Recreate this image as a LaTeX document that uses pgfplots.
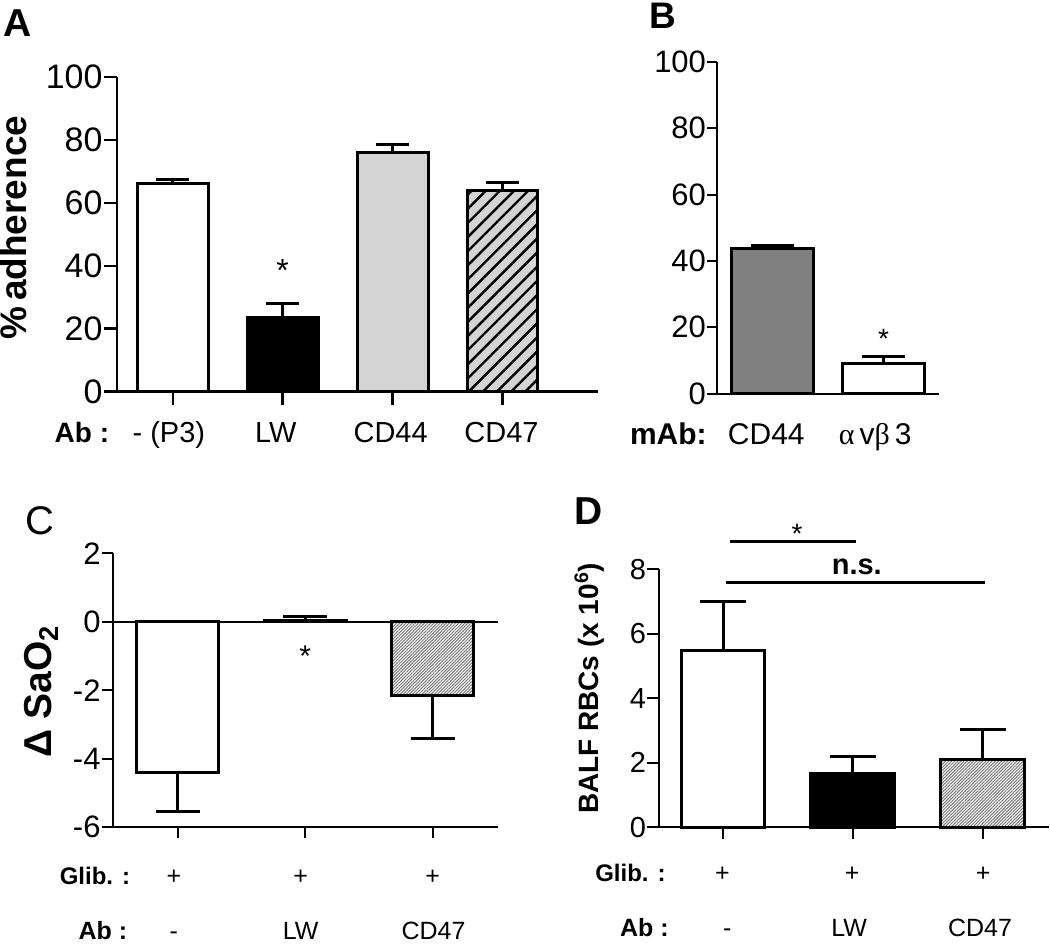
\documentclass[border=0pt]{standalone}
\usepackage{pgfplots}
\pgfplotsset{compat=1.18}
\usepackage{fontspec}
\setmainfont{Liberation Sans}
\newfontfamily\serifgreek{Liberation Serif}
\usetikzlibrary{patterns.meta}
\definecolor{lgray}{RGB}{212,212,212}
\definecolor{mgray}{RGB}{128,128,128}
\definecolor{hgray}{RGB}{120,120,120}
\newcommand{\fs}[1]{\fontsize{#1}{#1}\selectfont}
\pgfplotsset{
  panel/.style={
    scale only axis, axis lines=left, axis line style={-, line width=1pt, black},
    tick align=outside, major tick length=4pt, tick style={line width=1pt, black},
    /pgf/number format/assume math mode=true,
    ybar, bar shift=0pt, clip=false,
    every axis plot/.append style={draw=black, line width=1.5pt},
    error bars/error bar style={line width=1.5pt, black},
  },
}
\begin{document}
\begin{tikzpicture}
% ---------------- Panel A ----------------
\begin{axis}[panel, at={(58.5pt,-196pt)}, anchor=south west,
  width=241pt, height=157.5pt,
  xmin=-0.509, xmax=3.873, ymin=0, ymax=100,
  ytick={0,20,40,60,80,100}, xtick={0,1,2,3}, xticklabels={,,,},
  bar width=35.5pt, axis line style={line width=1.25pt}, tick style={line width=1.25pt},
  major tick length=6.5pt,
  yticklabel style={font=\fs{17}, inner xsep=0.5pt},
  error bars/error mark options={rotate=90, line width=1.5pt, mark size=8.25pt, black}]
\addplot[fill=white, error bars/.cd, y dir=plus, y explicit] coordinates {(0,66) +- (0,1.3)};
\addplot[fill=black, error bars/.cd, y dir=plus, y explicit] coordinates {(1,23.5) +- (0,4.5)};
\addplot[fill=lgray, error bars/.cd, y dir=plus, y explicit] coordinates {(2,76) +- (0,2.4)};
\addplot[fill=lgray, postaction={pattern={Lines[angle=45,distance=5pt,line width=1.2pt]}},
  error bars/.cd, y dir=plus, y explicit] coordinates {(3,64) +- (0,2.4)};
\node[anchor=base, inner sep=0pt, font=\fs{16}] at (axis cs:1,35.1) {*};
\end{axis}
% ---------------- Panel B ----------------
\begin{axis}[panel, at={(359pt,-197pt)}, anchor=south west,
  width=111pt, height=166pt,
  xmin=-0.5, xmax=1.5, ymin=0, ymax=100,
  ytick={0,20,40,60,80,100}, xtick=\empty,
  bar width=41pt,
  major tick length=5pt,
  yticklabel style={font=\fs{15.5}, inner xsep=0.5pt},
  error bars/error mark options={rotate=90, line width=1.5pt, mark size=10.75pt, black}]
\addplot[fill=mgray, error bars/.cd, y dir=plus, y explicit] coordinates {(0,43.7) +- (0,1.0)};
\addplot[fill=white, error bars/.cd, y dir=plus, y explicit] coordinates {(1,9.0) +- (0,2.2)};
\node[anchor=base, inner sep=0pt, font=\fs{14}] at (axis cs:1,13.6) {*};
\end{axis}
% ---------------- Panel C ----------------
\begin{axis}[panel, at={(56.5pt,-414pt)}, anchor=south west,
  width=192.5pt, height=137pt,
  xmin=-0.51, xmax=2.51, ymin=-6, ymax=2,
  ytick={-6,-4,-2,0,2}, yticklabels={-6,-4,-2,0,2}, xtick={0,1,2}, xticklabels={,,},
  bar width=41pt,
  major tick length=5.5pt,
  yticklabel style={font=\fs{15.5}, inner xsep=0.5pt},
  error bars/error mark options={rotate=90, line width=1.5pt, mark size=11pt, black}]
\draw[line width=1pt] (axis cs:-0.51,0) -- (axis cs:2.51,0);
\addplot[fill=white, error bars/.cd, y dir=minus, y explicit] coordinates {(0,-4.39) +- (0,1.14)};
\addplot[fill=white, error bars/.cd, y dir=plus, y explicit] coordinates {(1,0.05) +- (0,0.11)};
\addplot[fill=white, postaction={pattern={Lines[angle=45,distance=1.1pt,line width=0.5pt]}, pattern color=hgray},
  error bars/.cd, y dir=minus, y explicit] coordinates {(2,-2.14) +- (0,1.26)};
\node[anchor=base, inner sep=0pt, font=\fs{15}] at (axis cs:1,-1.30) {*};
\end{axis}
% ---------------- Panel D ----------------
\begin{axis}[panel, at={(330pt,-414pt)}, anchor=south west,
  width=195pt, height=129pt,
  xmin=-0.49, xmax=2.51, ymin=0, ymax=8,
  ytick={0,2,4,6,8}, xtick={0,1,2}, xticklabels={,,},
  bar width=42pt,
  major tick length=6pt,
  yticklabel style={font=\fs{14.5}, inner xsep=0.5pt},
  error bars/error mark options={rotate=90, line width=1.5pt, mark size=11.5pt, black}]
\addplot[fill=white, error bars/.cd, y dir=plus, y explicit] coordinates {(0,5.47) +- (0,1.53)};
\addplot[fill=black, error bars/.cd, y dir=plus, y explicit] coordinates {(1,1.66) +- (0,0.53)};
\addplot[fill=white, postaction={pattern={Lines[angle=45,distance=1.1pt,line width=0.5pt]}, pattern color=hgray},
  error bars/.cd, y dir=plus, y explicit] coordinates {(2,2.09) +- (0,0.95)};
\draw[line width=1.5pt] (axis cs:0.05,8.87) -- (axis cs:1.02,8.87);
\draw[line width=1.5pt] (axis cs:0.02,7.6) -- (axis cs:2.02,7.6);
\node[anchor=base, inner sep=0pt, font=\fs{14}] at (axis cs:0.57,8.81) {*};
\node[anchor=base, inner sep=0pt, font=\bfseries\fs{14.5}] at (axis cs:1.03,7.85) {n.s.};
\end{axis}
% ---------------- Text in pixel coordinates ----------------
\begin{scope}[x=0.5pt, y=-0.5pt, every node/.style={inner sep=0pt}]
\path[use as bounding box] (0,0) rectangle (1050,946);
% panel letters
\node[anchor=base west, font=\bfseries\fs{19.5}] at (3,37) {A};
\node[anchor=base west, font=\bfseries\fs{18.5}] at (650,29) {B};
\node[anchor=base west, font=\fs{20}] at (25,535) {C};
\node[anchor=base west, font=\bfseries\fs{19.5}] at (575,525) {D};
% y labels
\node[anchor=base, rotate=90, font=\bfseries\fs{18.5}] at (27,228) {\%\,adherence};
\node[anchor=base, rotate=90, font=\bfseries\fs{19.5}] at (52,692) {Δ SaO\textsubscript{2}};
\node[anchor=base, rotate=90, font=\bfseries\fs{14}] at (599,689) {BALF RBCs (x 10\textsuperscript{6})};
% Panel A x labels
\node[anchor=base, font=\bfseries\fs{14}] at (82,443) {Ab :};
\node[anchor=base, font=\fs{14.5}] at (169,443) {- (P3)};
\node[anchor=base, font=\fs{14.5}] at (276,443) {LW};
\node[anchor=base, font=\fs{14.5}] at (391,443) {CD44};
\node[anchor=base, font=\fs{14.5}] at (502,443) {CD47};
% Panel B x labels
\node[anchor=base, font=\bfseries\fs{15}] at (669,445) {mAb:};
\node[anchor=base, font=\fs{15}] at (767,445) {CD44};
\node[anchor=base, font=\fs{15}] at (876,445) {{\serifgreek α}\,v{\serifgreek β}\,3};
% Panel C x labels
\node[anchor=base, font=\bfseries\fs{12}] at (95,885) {Glib. :};
\node[anchor=base, font=\fs{12.5}] at (174,885) {+};
\node[anchor=base, font=\fs{12.5}] at (301,885) {+};
\node[anchor=base, font=\fs{12.5}] at (433,885) {+};
\node[anchor=base, font=\bfseries\fs{12.5}] at (103,940) {Ab :};
\node[anchor=base, font=\fs{12.5}] at (174,940) {-};
\node[anchor=base, font=\fs{12.5}] at (301,940) {LW};
\node[anchor=base, font=\fs{12.5}] at (434,940) {CD47};
% Panel D x labels
\node[anchor=base, font=\bfseries\fs{12}] at (631,882) {Glib. :};
\node[anchor=base, font=\fs{12.5}] at (723,882) {+};
\node[anchor=base, font=\fs{12.5}] at (853,882) {+};
\node[anchor=base, font=\fs{12.5}] at (984,882) {+};
\node[anchor=base, font=\bfseries\fs{12.5}] at (645,937) {Ab :};
\node[anchor=base, font=\fs{12.5}] at (728,937) {-};
\node[anchor=base, font=\fs{12.5}] at (850,937) {LW};
\node[anchor=base, font=\fs{12.5}] at (981,937) {CD47};
\end{scope}
\end{tikzpicture}
\end{document}
